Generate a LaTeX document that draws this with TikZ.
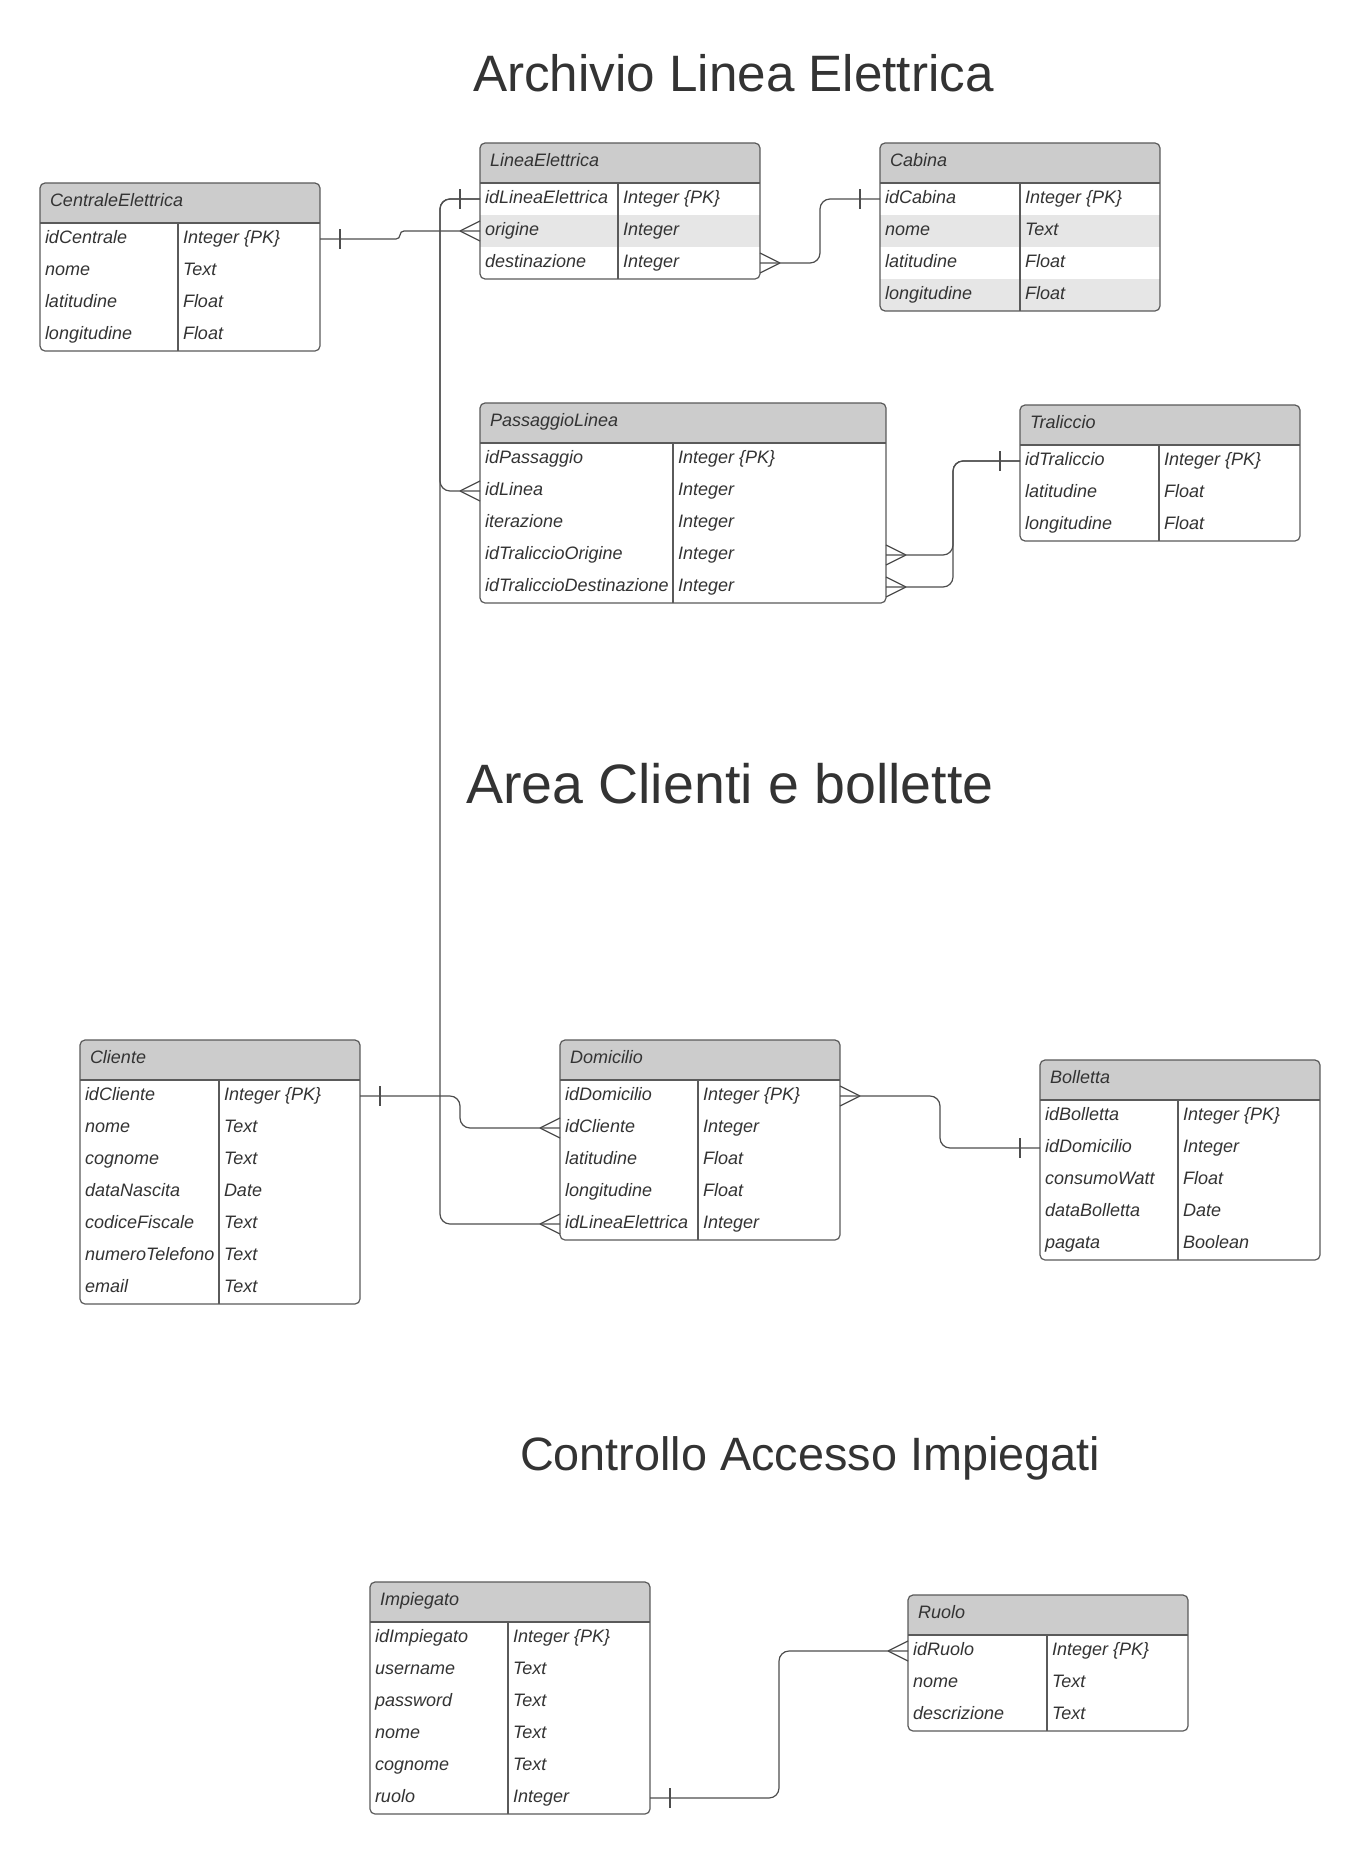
\documentclass[tikz,border=0pt]{standalone}
\usepackage{fontspec}
\setmainfont{Liberation Sans}
\usetikzlibrary{calc}
\definecolor{hdr}{HTML}{CCCCCC}
\definecolor{shd}{HTML}{E6E6E6}
\definecolor{txt}{HTML}{333333}
\definecolor{brd}{HTML}{5A5A5A}
\definecolor{lnk}{HTML}{4D4D4D}
\tikzset{
  tborder/.style={draw=brd, line width=1.2pt, rounded corners=5pt, inner sep=0pt, outer sep=0pt},
  tline/.style={draw=brd, line width=1.2pt},
  rowbox/.style={inner sep=0pt, outer sep=0pt, minimum height=32pt},
  celltext/.style={inner sep=0pt, outer sep=0pt, text=txt, font=\fontsize{18}{20}\selectfont\itshape, anchor=base west},
  rel/.style={draw=lnk, line width=1.2pt, rounded corners=10pt},
  foot/.style={draw=lnk, line width=1.2pt},
  titletext/.style={inner sep=0pt, outer sep=0pt, text=txt, anchor=base west},
}
% #1 name, #2 x, #3 top, #4 width, #5 first column width, #6 title, #7 rows, #8 number of rows
\newcommand\ertable[8]{%
  \pgfmathsetmacro\tbot{#3+40+32*#8}
  \begin{scope}
    \clip[rounded corners=5pt] (#2,#3) rectangle (#2+#4,\tbot);
    \fill[white] (#2,#3) rectangle (#2+#4,\tbot);
    \fill[hdr] (#2,#3) rectangle (#2+#4,#3+40);
    \foreach \vk/\vt/\vs [count=\i] in {#7} {
      \ifnum\vs=1 \fill[shd] (#2,#3+8+32*\i) rectangle (#2+#4,#3+40+32*\i); \fi
    }
  \end{scope}
  \draw[tline] (#2,#3+40) -- (#2+#4,#3+40);
  \draw[tline] (#2+#5,#3+40) -- (#2+#5,\tbot);
  \node[celltext] (#1-h) at (#2+10,#3+23.5) {#6};
  \foreach \vk/\vt/\vs [count=\i] in {#7} {
    \node[rowbox, minimum width=#4pt, anchor=north west] (#1-\i) at (#2,#3+8+32*\i) {};
    \node[celltext] (#1-k\i) at ($(#1-\i.west)+(5,4)$) {\vk};
    \node[celltext] (#1-t\i) at ($(#1-\i.west)+(#5+5,4)$) {\vt};
  }
  \node[tborder, minimum width=#4pt, minimum height={40+32*#8}, anchor=north west] (#1) at (#2,#3) {};
}
\newcommand\manyW[1]{\draw[foot] ([xshift=-20pt]#1.west) -- ([yshift=10pt]#1.west) ([xshift=-20pt]#1.west) -- ([yshift=-10pt]#1.west);}
\newcommand\manyE[1]{\draw[foot] ([xshift=20pt]#1.east) -- ([yshift=10pt]#1.east) ([xshift=20pt]#1.east) -- ([yshift=-10pt]#1.east);}
\newcommand\oneW[1]{\draw[foot] ([xshift=-20pt,yshift=10pt]#1.west) -- ([xshift=-20pt,yshift=-10pt]#1.west);}
\newcommand\oneE[1]{\draw[foot] ([xshift=20pt,yshift=10pt]#1.east) -- ([xshift=20pt,yshift=-10pt]#1.east);}
\begin{document}
\begin{tikzpicture}[x=1pt,y=-1pt]
\fill[white] (0,0) rectangle (1360,1855);
\useasboundingbox (0,0) rectangle (1360,1855);

\node[titletext, font=\fontsize{51.2}{60}\selectfont] (t1) at (473,91) {Archivio Linea Elettrica};
\node[titletext, font=\fontsize{55.5}{64}\selectfont] (t2) at (466,803) {Area Clienti e bollette};
\node[titletext, font=\fontsize{46.8}{54}\selectfont] (t3) at (520,1470) {Controllo Accesso Impiegati};

\ertable{CE}{40}{183}{280}{138}{CentraleElettrica}{idCentrale/Integer \{PK\}/0, nome/Text/0, latitudine/Float/0, longitudine/Float/0}{4}
\ertable{LE}{480}{143}{280}{138}{LineaElettrica}{idLineaElettrica/Integer \{PK\}/0, origine/Integer/1, destinazione/Integer/0}{3}
\ertable{CA}{880}{143}{280}{140}{Cabina}{idCabina/Integer \{PK\}/0, nome/Text/1, latitudine/Float/0, longitudine/Float/1}{4}
\ertable{PL}{480}{403}{406}{193}{PassaggioLinea}{idPassaggio/Integer \{PK\}/0, idLinea/Integer/0, iterazione/Integer/0, idTraliccioOrigine/Integer/0, idTraliccioDestinazione/Integer/0}{5}
\ertable{TR}{1020}{405}{280}{139}{Traliccio}{idTraliccio/Integer \{PK\}/0, latitudine/Float/0, longitudine/Float/0}{3}
\ertable{CL}{80}{1040}{280}{139}{Cliente}{idCliente/Integer \{PK\}/0, nome/Text/0, cognome/Text/0, dataNascita/Date/0, codiceFiscale/Text/0, numeroTelefono/Text/0, email/Text/0}{7}
\ertable{DO}{560}{1040}{280}{138}{Domicilio}{idDomicilio/Integer \{PK\}/0, idCliente/Integer/0, latitudine/Float/0, longitudine/Float/0, idLineaElettrica/Integer/0}{5}
\ertable{BO}{1040}{1060}{280}{138}{Bolletta}{idBolletta/Integer \{PK\}/0, idDomicilio/Integer/0, consumoWatt/Float/0, dataBolletta/Date/0, pagata/Boolean/0}{5}
\ertable{IM}{370}{1582}{280}{138}{Impiegato}{idImpiegato/Integer \{PK\}/0, username/Text/0, password/Text/0, nome/Text/0, cognome/Text/0, ruolo/Integer/0}{6}
\ertable{RU}{908}{1595}{280}{139}{Ruolo}{idRuolo/Integer \{PK\}/0, nome/Text/0, descrizione/Text/0}{3}

% connectors
\draw[rel, rounded corners=4pt] (CE-1.east) -- ++(80,0) |- (LE-2.west);
\oneE{CE-1} \manyW{LE-2}
\draw[rel] (LE-1.west) -- ++(-40,0) |- (PL-2.west);
\draw[rel] (LE-1.west) -- ++(-40,0) |- (DO-5.west);
\oneW{LE-1} \manyW{PL-2} \manyW{DO-5}
\draw[rel] (LE-3.east) -- ++(60,0) |- (CA-1.west);
\manyE{LE-3} \oneW{CA-1}
\draw[rel] (PL-4.east) -- ++(67,0) |- (TR-1.west);
\draw[rel] (PL-5.east) -- ++(67,0) |- (TR-1.west);
\manyE{PL-4} \manyE{PL-5} \oneW{TR-1}
\draw[rel] (CL-1.east) -- ++(100,0) |- (DO-2.west);
\oneE{CL-1} \manyW{DO-2}
\draw[rel] (DO-1.east) -- ++(100,0) |- (BO-2.west);
\manyE{DO-1} \oneW{BO-2}
\draw[rel] (IM-6.east) -- ++(129,0) |- (RU-1.west);
\oneE{IM-6} \manyW{RU-1}
\end{tikzpicture}
\end{document}
